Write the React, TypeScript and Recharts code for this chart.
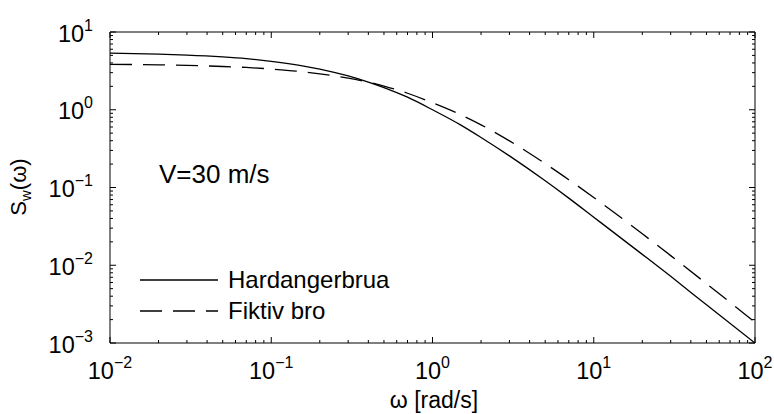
import React from "react";
import { LineChart, Line, XAxis, YAxis } from "recharts";

// omega [rad/s] sample points and spectra
const omega = [0.01, 0.02, 0.03, 0.05, 0.07, 0.1, 0.15, 0.2, 0.3, 0.4, 0.5, 0.7, 1, 1.5, 2, 3, 5, 7, 10, 20, 30, 50, 100];
const hardangerbrua = [5.34, 5.19, 5.05, 4.78, 4.54, 4.2, 3.73, 3.34, 2.72, 2.27, 1.93, 1.45, 1.0, 0.635, 0.44, 0.255, 0.122, 0.073, 0.0415, 0.0138, 0.0072, 0.0031, 0.001];
const fiktivBro = [3.84, 3.78, 3.72, 3.6, 3.5, 3.34, 3.11, 2.9, 2.55, 2.26, 2.02, 1.63, 1.23, 0.86, 0.64, 0.398, 0.203, 0.126, 0.0745, 0.0254, 0.0133, 0.0058, 0.00185];

const xDecades = [0.01, 0.1, 1, 10];
const yDecades = [0.001, 0.01, 0.1, 1];
const minorSteps = [1, 2, 3, 4, 5, 6, 7, 8, 9];
const xTicks = [...xDecades.flatMap((d) => minorSteps.map((m) => +(d * m).toPrecision(6))), 100];
const yTicks = [...yDecades.flatMap((d) => minorSteps.map((m) => +(d * m).toPrecision(6))), 10];

const data = omega.map((w, i) => ({ w, hb: hardangerbrua[i], fb: fiktivBro[i] }));

const FONT = "'Liberation Sans', Arial, Helvetica, sans-serif";
const W = 774;
const H = 414;

const isMajor = (v: number) => Math.abs(Math.log10(v) - Math.round(Math.log10(v))) < 1e-6;
const expText = (v: number) => {
  const e = Math.round(Math.log10(v));
  return e < 0 ? `\u2212${-e}` : `${e}`;
};

const PowLabel = ({ x, y, v, anchor }: any) => (
  <text x={x} y={y} textAnchor={anchor} fontFamily={FONT} fontSize={23.5} fill="#000">
    <tspan>10</tspan>
    <tspan dy={-11} fontSize={16}>{expText(v)}</tspan>
  </text>
);

const BottomTick = ({ x, y, payload }: any) => {
  const major = isMajor(payload.value);
  return (
    <g>
      <line x1={x} x2={x} y1={y} y2={y - (major ? 6 : 3)} stroke="#000" />
      {major && <PowLabel x={x} y={y + 36} v={payload.value} anchor="middle" />}
    </g>
  );
};

const TopTick = ({ x, y, payload }: any) => {
  const major = isMajor(payload.value);
  return <line x1={x} x2={x} y1={y} y2={y + (major ? 6 : 3)} stroke="#000" />;
};

const LeftTick = ({ x, y, payload }: any) => {
  const major = isMajor(payload.value);
  return (
    <g>
      <line x1={x} x2={x + (major ? 6 : 3)} y1={y} y2={y} stroke="#000" />
      {major && <PowLabel x={x - 17} y={y + 9.5} v={payload.value} anchor="end" />}
    </g>
  );
};

const RightTick = ({ x, y, payload }: any) => {
  const major = isMajor(payload.value);
  return <line x1={x} x2={x - (major ? 6 : 3)} y1={y} y2={y} stroke="#000" />;
};

export default function App() {
  return (
    <div style={{ position: "absolute", left: 0, top: 0, width: W, height: H, background: "#fff" }}>
      <LineChart width={W} height={H} data={data} margin={{ top: 30, right: 17, left: 0, bottom: 0 }}>
        <XAxis
          xAxisId="b"
          dataKey="w"
          type="number"
          scale="log"
          domain={[0.01, 100]}
          allowDataOverflow
          ticks={xTicks}
          interval={0}
          height={71}
          tickSize={0}
          tickMargin={0}
          tickLine={false}
          axisLine={{ stroke: "#000" }}
          tick={<BottomTick />}
        />
        <XAxis
          xAxisId="t"
          orientation="top"
          dataKey="w"
          type="number"
          scale="log"
          domain={[0.01, 100]}
          allowDataOverflow
          ticks={xTicks}
          interval={0}
          height={2}
          tickSize={0}
          tickMargin={0}
          tickLine={false}
          axisLine={{ stroke: "#000" }}
          tick={<TopTick />}
        />
        <YAxis
          yAxisId="l"
          type="number"
          scale="log"
          domain={[0.001, 10]}
          allowDataOverflow
          ticks={yTicks}
          interval={0}
          width={110}
          tickSize={0}
          tickMargin={0}
          tickLine={false}
          axisLine={{ stroke: "#000" }}
          tick={<LeftTick />}
        />
        <YAxis
          yAxisId="r"
          orientation="right"
          type="number"
          scale="log"
          domain={[0.001, 10]}
          allowDataOverflow
          ticks={yTicks}
          interval={0}
          width={2}
          tickSize={0}
          tickMargin={0}
          tickLine={false}
          axisLine={{ stroke: "#000" }}
          tick={<RightTick />}
        />
        <Line
          xAxisId="b"
          yAxisId="l"
          type="monotone"
          dataKey="hb"
          name="Hardangerbrua"
          stroke="#000"
          strokeWidth={1.3}
          dot={false}
          isAnimationActive={false}
        />
        <Line
          xAxisId="b"
          yAxisId="l"
          type="monotone"
          dataKey="fb"
          name="Fiktiv bro"
          stroke="#000"
          strokeWidth={1.3}
          strokeDasharray="22 11"
          dot={false}
          isAnimationActive={false}
        />
      </LineChart>
      <svg width={W} height={H} style={{ position: "absolute", left: 0, top: 0, pointerEvents: "none" }}>
        <g fontFamily={FONT} fontSize={22} fill="#000">
          <text x={159} y={183} fontSize={26}>V=30 m/s</text>
          <text x={434} y={408} textAnchor="middle" fontSize={23}>ω [rad/s]</text>
          <text transform="translate(26,187) rotate(-90)" textAnchor="middle">
            S<tspan dy={5} fontSize={15}>w</tspan>
            <tspan dy={-5}>(ω)</tspan>
          </text>
          <line x1={140} x2={218} y1={280} y2={280} stroke="#000" strokeWidth={1.3} />
          <line x1={140} x2={218} y1={311} y2={311} stroke="#000" strokeWidth={1.3} strokeDasharray="22 11" />
          <text x={228} y={288} fontSize={24}>Hardangerbrua</text>
          <text x={228} y={319} fontSize={24}>Fiktiv bro</text>
        </g>
      </svg>
    </div>
  );
}
